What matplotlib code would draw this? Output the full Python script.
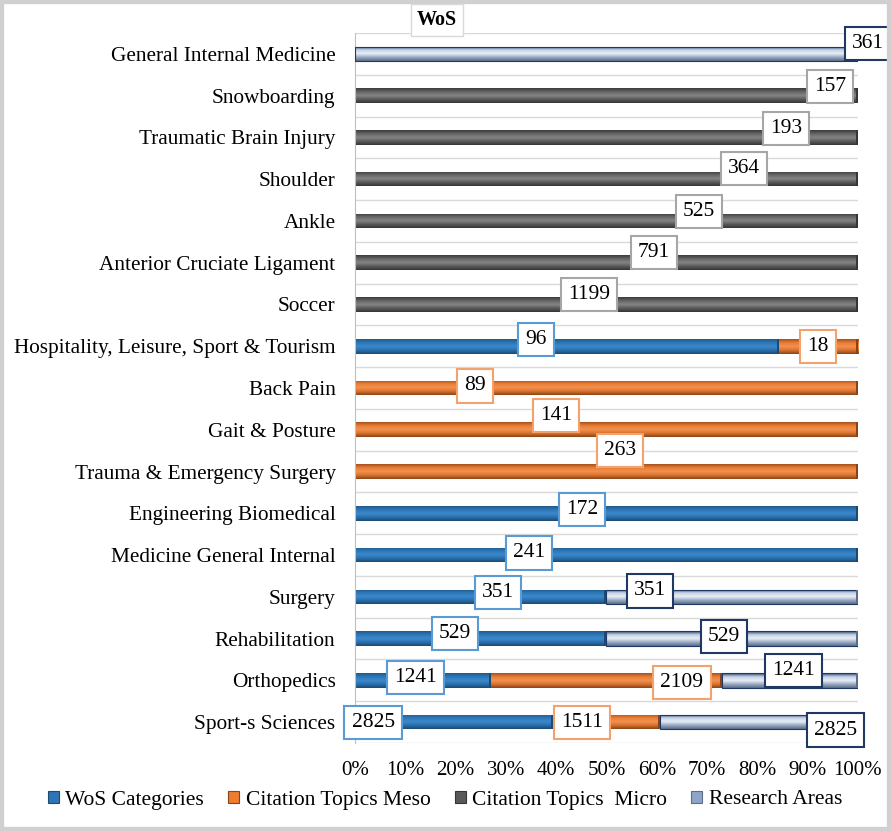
import numpy as np
import matplotlib
matplotlib.use("Agg")
import matplotlib.pyplot as plt
from matplotlib.colors import LinearSegmentedColormap
from matplotlib.patches import Rectangle, Patch

plt.rcParams['font.family'] = ['Liberation Serif', 'DejaVu Serif']

# rows listed bottom to top
categories = [
    "Sport-s Sciences", "Orthopedics", "Rehabilitation", "Surgery",
    "Medicine General Internal", "Engineering Biomedical",
    "Trauma & Emergency Surgery", "Gait & Posture", "Back Pain",
    "Hospitality, Leisure, Sport & Tourism", "Soccer",
    "Anterior Cruciate Ligament", "Ankle", "Shoulder",
    "Traumatic Brain Injury", "Snowboarding", "General Internal Medicine",
]
series_names = ["WoS Categories", "Citation Topics Meso",
                "Citation Topics  Micro", "Research Areas"]
wos_categories = [2825, 1241, 529, 351, 241, 172, 0, 0, 0, 96, 0, 0, 0, 0, 0, 0, 0]
topics_meso = [1511, 2109, 0, 0, 0, 0, 263, 141, 89, 18, 0, 0, 0, 0, 0, 0, 0]
topics_micro = [0, 0, 0, 0, 0, 0, 0, 0, 0, 0, 1199, 791, 525, 364, 193, 157, 0]
research_areas = [2825, 1241, 529, 351, 0, 0, 0, 0, 0, 0, 0, 0, 0, 0, 0, 0, 361]

# label placement per series: category -> (x in axis fraction, y shift in rows)
label_place = [
    {"Sport-s Sciences": (0.036, 0.0), "Orthopedics": (0.121, 0.07),
     "Rehabilitation": (0.199, 0.12), "Surgery": (0.284, 0.10),
     "Medicine General Internal": (0.346, 0.05), "Engineering Biomedical": (0.451, 0.10),
     "Hospitality, Leisure, Sport & Tourism": (0.36, 0.17)},
    {"Sport-s Sciences": (0.451, 0.0), "Orthopedics": (0.65, -0.05),
     "Trauma & Emergency Surgery": (0.527, 0.50), "Gait & Posture": (0.40, 0.34),
     "Back Pain": (0.239, 0.05), "Hospitality, Leisure, Sport & Tourism": (0.92, 0.0)},
    {"Soccer": (0.465, 0.24), "Anterior Cruciate Ligament": (0.594, 0.24),
     "Ankle": (0.684, 0.22), "Shoulder": (0.773, 0.26),
     "Traumatic Brain Injury": (0.857, 0.22), "Snowboarding": (0.944, 0.22)},
    {"Sport-s Sciences": (0.956, -0.19), "Orthopedics": (0.871, 0.24),
     "Rehabilitation": (0.734, 0.05), "Surgery": (0.586, 0.14),
     "General Internal Medicine": (1.02, 0.24)},
]

# shading stops for each series, bottom edge to top edge of a bar
shades = [
    ["#1B4A72", "#2A6FAD", "#3B88CC", "#2E78B8", "#205A8C"],
    ["#8A4418", "#D9722E", "#F3914F", "#EB7E36", "#A4521F"],
    ["#363636", "#5A5A5A", "#858585", "#666666", "#3C3C3C"],
    ["#5A6E8A", "#9AAAC2", "#E8EEF7", "#C4D2E6", "#2F4A73"],
]
box_edges = ["#5B9BD5", "#F4A26B", "#A6A6A6", "#1F3864"]
legend_colors = ["#2E75B6", "#ED7D31", "#595959", "#8FA5C8"]

values = np.array([wos_categories, topics_meso, topics_micro, research_areas], dtype=float)
shares = values / values.sum(axis=0)

fig = plt.figure(figsize=(8.91, 8.31), dpi=100)
ax = fig.add_axes([0.3984, 0.1059, 0.5645, 0.8544])

y = np.arange(len(categories))
bar_h = 0.35
left = np.zeros(len(categories))
grad = np.linspace(0, 1, 64).reshape(-1, 1)
for k in range(4):
    bars = ax.barh(y, shares[k], left=left, height=bar_h, color="none",
                   edgecolor="#1F3864" if k == 3 else "none", lw=0.8, zorder=3)
    cmap = LinearSegmentedColormap.from_list(f"s{k}", shades[k])
    for b in bars:
        if b.get_width() <= 0:
            continue
        x0, y0 = b.get_x(), b.get_y()
        x1, y1 = x0 + b.get_width(), y0 + b.get_height()
        im = ax.imshow(grad, cmap=cmap, origin="lower", aspect="auto",
                       extent=(x0, x1, y0, y1), zorder=2)
        im.set_clip_path(b)
        # dark cap at the end of each segment
        ax.add_patch(Rectangle((x1 - 0.004, y0), 0.004, y1 - y0,
                               color=shades[k][0], zorder=3, lw=0))
    left += shares[k]

# value boxes
ser_values = [wos_categories, topics_meso, topics_micro, research_areas]
for k in range(4):
    for cat, (xf, dy) in label_place[k].items():
        i = categories.index(cat)
        ax.text(xf, i + dy, f"{ser_values[k][i]}", ha="center", va="center",
                fontsize=15.5, zorder=5, clip_on=False,
                bbox=dict(boxstyle="square,pad=0.33", fc="white",
                          ec=box_edges[k], lw=1.5))

ax.set_xlim(0, 1)
ax.set_ylim(-0.5, len(categories) - 0.5)
ax.hlines(np.arange(-0.5, len(categories)), 0, 1, color="#D9D9D9", lw=1, zorder=1)

ax.set_yticks(y)
ax.set_yticklabels(categories, fontsize=15.3)
ticks = np.linspace(0, 1, 11)
ax.set_xticks(ticks)
ax.set_xticklabels([f"{int(round(t * 100))}%" for t in ticks], fontsize=15)
ax.tick_params(axis="y", length=0, pad=14)
ax.tick_params(axis="x", length=0, pad=13)
for s in ["top", "right", "bottom"]:
    ax.spines[s].set_visible(False)
ax.spines["left"].set_color("#BFBFBF")

fig.text(437 / 891, 1 - 20 / 831, "WoS", ha="center", va="center",
         fontsize=14.5, fontweight="bold",
         bbox=dict(boxstyle="square,pad=0.3", fc="white", ec="#D9D9D9", lw=1))

handles = [Patch(facecolor=legend_colors[k], edgecolor=shades[k][0], lw=0.8)
           for k in range(4)]
fig.legend(handles, series_names, loc="center", bbox_to_anchor=(445 / 891, 1 - 800 / 831),
           ncol=4, frameon=False, fontsize=15.5, handlelength=0.5,
           handleheight=0.5, handletextpad=0.3, columnspacing=1.13)

fig.patches.append(Rectangle((0, 0), 1, 1, transform=fig.transFigure,
                             fill=False, ec="#D0D0D0", lw=6))

fig.savefig("out.png", dpi=100)
